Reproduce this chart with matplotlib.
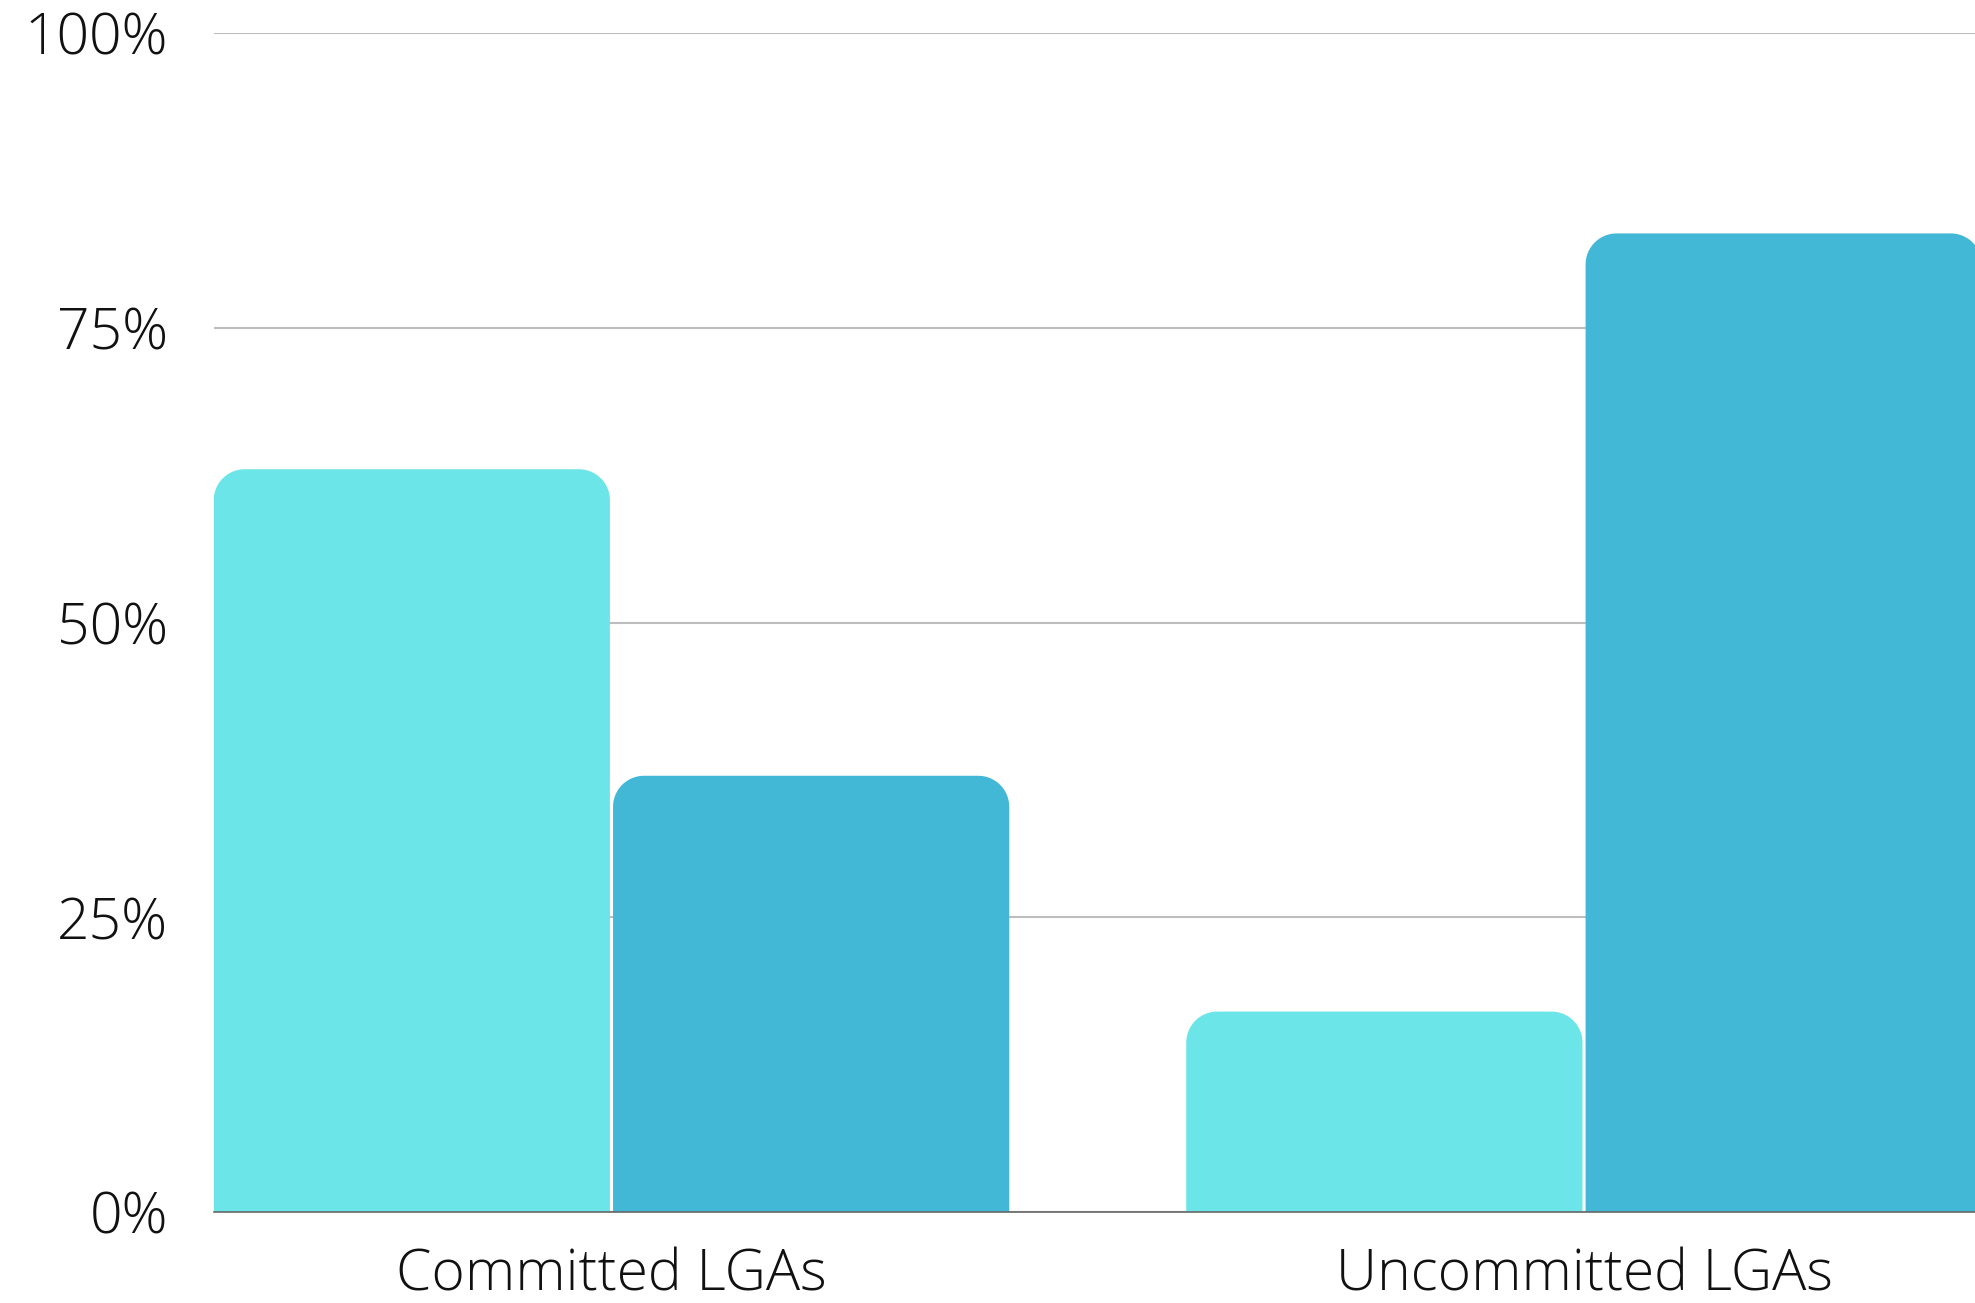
import numpy as np
import matplotlib.pyplot as plt
from matplotlib import font_manager
from matplotlib.patches import Polygon
from matplotlib.transforms import IdentityTransform

# data
categories = ['Committed LGAs', 'Uncommitted LGAs']
series_a = [63, 17]   # light cyan bars
series_b = [37, 83]   # darker blue bars
y_ticks = [0, 25, 50, 75, 100]
y_tick_labels = ['0%', '25%', '50%', '75%', '100%']

color_a = '#6BE5E8'
color_b = '#42B7D6'

# Open Sans Light, if the file is there
light = [f.fname for f in font_manager.fontManager.ttflist
         if f.fname.endswith('OpenSans-Light.ttf')]
if light:
    fp = font_manager.FontProperties(fname=light[0], size=41)
else:
    fp = font_manager.FontProperties(family='Open Sans', weight='light', size=41)

fig = plt.figure(figsize=(19.75, 13.03), dpi=100)
ax = fig.add_axes([214 / 1975, 1 - 1212 / 1303, 1 - 214 / 1975, (1212 - 33) / 1303])

x = np.arange(len(categories))
width = 0.4074
offset = 0.2053

bars_a = ax.bar(x - offset, series_a, width, color=color_a, zorder=3)
bars_b = ax.bar(x + offset, series_b, width, color=color_b, zorder=3)

ax.set_xlim(-0.4087, 1.402)
ax.set_ylim(0, 100)

ax.set_yticks(y_ticks)
ax.set_yticklabels(y_tick_labels)
ax.set_xticks(x)
ax.set_xticklabels(categories)
ax.tick_params(axis='y', length=0, pad=33, labelcolor='#111111')
ax.tick_params(axis='x', length=0, pad=25, labelcolor='#111111')
for lab in ax.get_xticklabels() + ax.get_yticklabels():
    lab.set_fontproperties(fp)

for s in ['top', 'right', 'left']:
    ax.spines[s].set_visible(False)
ax.spines['bottom'].set_color('#666666')
ax.spines['bottom'].set_linewidth(1.2)
ax.spines['bottom'].set_zorder(4)

ax.yaxis.grid(True, color='#BDBDBD', linewidth=1.5, zorder=0)
ax.set_axisbelow(True)

# swap the square bars for bars with rounded top corners (radius in pixels)
radius = 31
fig.canvas.draw()
for bar in list(bars_a) + list(bars_b):
    (x0, y0), (x1, y1) = ax.transData.transform(
        [(bar.get_x(), bar.get_y()), (bar.get_x() + bar.get_width(), bar.get_height())])
    t = np.linspace(0, np.pi / 2, 20)
    right = np.column_stack([x1 - radius + radius * np.cos(t), y1 - radius + radius * np.sin(t)])
    left = np.column_stack([x0 + radius - radius * np.sin(t), y1 - radius + radius * np.cos(t)])
    verts = np.vstack([[x1, y0], right, left, [x0, y0]])
    ax.add_patch(Polygon(verts, closed=True, facecolor=bar.get_facecolor(),
                         edgecolor='none', transform=IdentityTransform(), zorder=3))
    bar.set_visible(False)

fig.savefig('out.png', dpi=100)
